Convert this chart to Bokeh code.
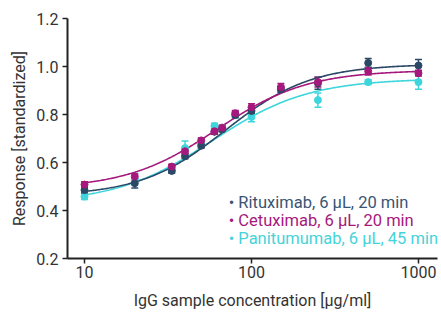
import numpy as np
from bokeh.plotting import figure
from bokeh.models import ColumnDataSource, Whisker, TeeHead, FixedTicker, Label, PrintfTickFormatter
from bokeh.embed import file_html
from bokeh.resources import INLINE

# ---- data ----
conc = [10, 20, 33.3, 40, 50, 60, 66.7, 80, 100, 150, 250, 500, 1000]
series_names = ["Rituximab, 6 µL, 20 min", "Cetuximab, 6 µL, 20 min", "Panitumumab, 6 µL, 45 min"]
rituximab = [0.485, 0.514, 0.565, 0.626, 0.670, 0.728, 0.738, 0.798, 0.815, 0.905, 0.930, 1.015, 1.004]
rituximab_err = [0.012, 0.020, 0.010, 0.010, 0.010, 0.010, 0.010, 0.012, 0.012, 0.012, 0.025, 0.018, 0.025]
cetuximab = [0.508, 0.542, 0.583, 0.647, 0.692, 0.730, 0.745, 0.805, 0.830, 0.914, 0.935, 0.980, 0.972]
cetuximab_err = [0.012, 0.010, 0.010, 0.010, 0.010, 0.012, 0.010, 0.012, 0.015, 0.015, 0.020, 0.015, 0.012]
panitumumab = [0.458, 0.530, 0.568, 0.660, 0.680, 0.752, 0.745, 0.800, 0.790, float("nan"), 0.860, 0.935, 0.935]
panitumumab_err = [0.012, 0.025, 0.010, 0.030, 0.010, 0.012, 0.010, 0.010, 0.020, float("nan"), 0.030, 0.010, 0.030]
# 4-parameter logistic fit (bottom, top, EC50, hill) per series
fit_rituximab = [0.46, 1.01, 70.0, 1.7]
fit_cetuximab = [0.49, 0.985, 62.0, 1.6]
fit_panitumumab = [0.43, 0.95, 58.0, 1.5]
x_ticks = [10, 100, 1000]
y_ticks = [0.2, 0.4, 0.6, 0.8, 1.0, 1.2]

colors = ["#2b4866", "#a6197c", "#3dd6dc"]
text_colors = ["#3a5573", "#a6197c", "#45d3d9"]

FONT = "Roboto"

p = figure(width=441, height=314, x_axis_type="log", x_range=(7.91, 1300), y_range=(0.2, 1.2),
           output_backend="svg", toolbar_location=None,
           min_border_left=67, min_border_right=4, min_border_top=18, min_border_bottom=56)
p.outline_line_color = None
p.xgrid.visible = False
p.ygrid.visible = False
p.background_fill_color = "white"
p.border_fill_color = "white"

xs = np.logspace(1, 3, 300)
def four_pl(x, prm):
    b, t, ec, h = prm
    return b + (t - b) / (1.0 + (ec / x) ** h)

values = [rituximab, cetuximab, panitumumab]
errors = [rituximab_err, cetuximab_err, panitumumab_err]
fits = [fit_rituximab, fit_cetuximab, fit_panitumumab]

order = [2, 0, 1]
for i in order:
    p.line(xs, four_pl(xs, fits[i]), line_color=colors[i], line_width=1.6)

for i in order:
    v = np.array(values[i], dtype=float)
    e = np.array(errors[i], dtype=float)
    src = ColumnDataSource(dict(x=conc, y=v, upper=v + e, lower=v - e))
    w = Whisker(source=src, base="x", upper="upper", lower="lower",
                line_color=colors[i], line_width=1.5,
                upper_head=TeeHead(size=7, line_color=colors[i], line_width=1.5),
                lower_head=TeeHead(size=7, line_color=colors[i], line_width=1.5))
    p.add_layout(w)
    p.scatter("x", "y", source=src, size=7, fill_color=colors[i], line_color=colors[i])

# axes
for ax in (p.xaxis[0], p.yaxis[0]):
    ax.axis_line_width = 2
    ax.axis_line_color = "#222222"
    ax.major_tick_line_color = "#222222"
    ax.major_tick_line_width = 1.5
    ax.major_tick_out = 5
    ax.major_tick_in = 0
    ax.minor_tick_line_color = None
    ax.major_label_text_font = FONT
    ax.major_label_text_font_size = "16px"
    ax.major_label_text_color = "#333333"
    ax.axis_label_text_font = FONT
    ax.axis_label_text_font_size = "16px"
    ax.axis_label_text_font_style = "normal"
    ax.axis_label_text_color = "#333333"

p.xaxis.ticker = FixedTicker(ticks=x_ticks)
p.xaxis.formatter = PrintfTickFormatter(format="%d")
p.yaxis.ticker = FixedTicker(ticks=y_ticks)
p.yaxis.formatter = PrintfTickFormatter(format="%.1f")
p.xaxis.axis_label = "IgG sample concentration [µg/ml]"
p.yaxis.axis_label = "Response [standardized]"
p.xaxis.major_label_standoff = 2
p.xaxis.axis_label_standoff = 10
p.yaxis.major_label_standoff = 4
p.yaxis.axis_label_standoff = 4

# legend as coloured text lines
leg_x = 73.0
leg_y = [0.433, 0.357, 0.283]
for i in range(3):
    p.add_layout(Label(x=leg_x, y=leg_y[i], text="• " + series_names[i],
                       text_color=text_colors[i], text_font=FONT, text_font_size="16.5px",
                       text_baseline="middle", text_align="left"))

open("out.html", "w").write(file_html(p, INLINE))
